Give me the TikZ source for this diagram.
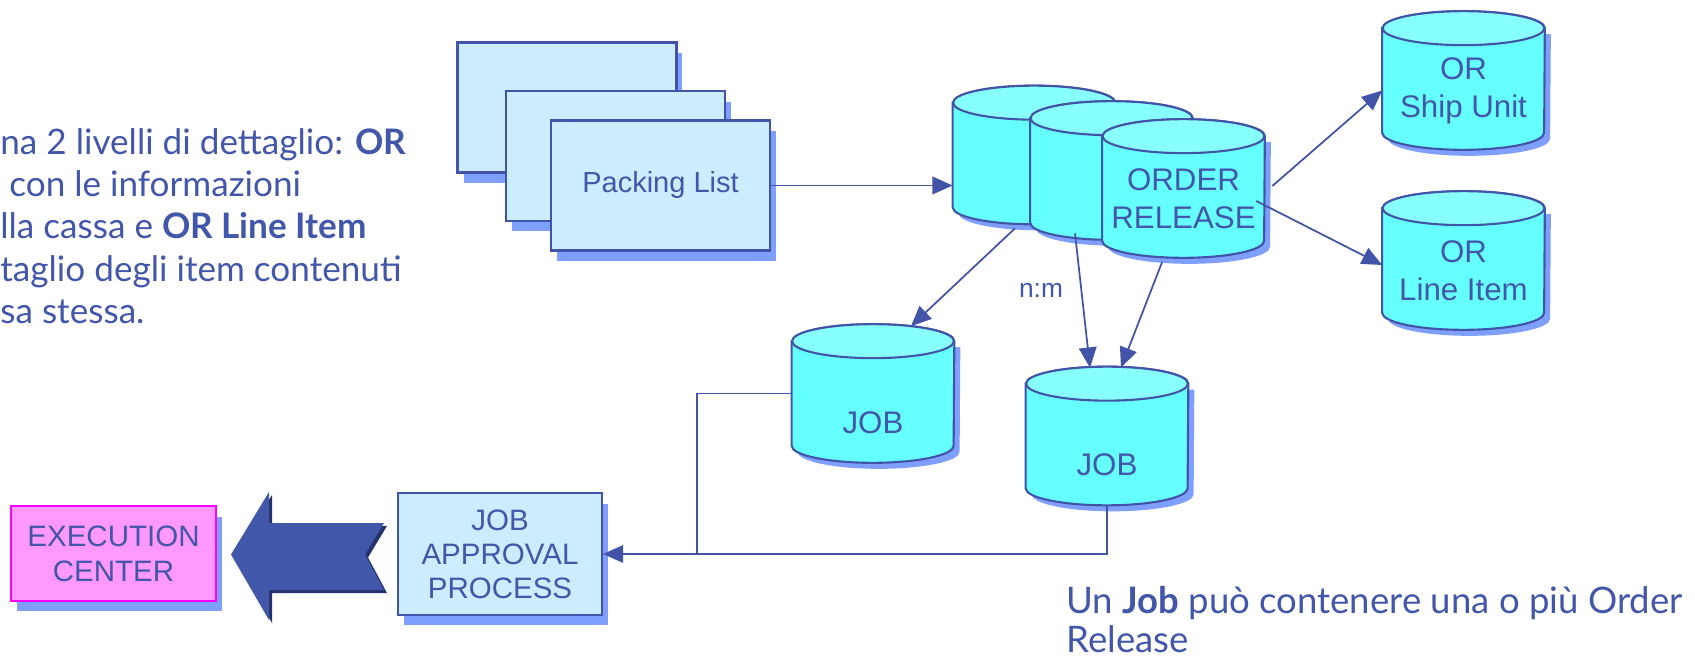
\documentclass[tikz,border=0pt]{standalone}
\usepackage{fontspec}
\setmainfont{Liberation Sans}
\newfontfamily\notefont{Lato}
\usepackage{tikz}
\usetikzlibrary{calc,arrows.meta,shadows}
\definecolor{lineblue}{RGB}{66,84,168}
\definecolor{textblue}{RGB}{66,86,170}
\definecolor{boxfill}{HTML}{CCECFF}
\definecolor{shadowblue}{HTML}{7F9FFF}
\definecolor{cylbody}{HTML}{66FFFF}
\definecolor{cyltop}{HTML}{88FFFF}
\definecolor{execfill}{HTML}{FF99FF}
\definecolor{execline}{HTML}{FF00FF}
\definecolor{bigarrow}{RGB}{64,87,170}
\definecolor{bigarrowdark}{RGB}{38,50,108}
\tikzset{>={Triangle[length=11.5pt,width=10pt]}}

% cylinder drawn round an empty node
\newcommand{\drawcyl}[1]{%
  \fill[shadowblue] ($(#1.north west)+(6,-23)$) -- ($(#1.south west)+(6,11)$)
    arc[start angle=180,end angle=360,x radius=1.62cm,y radius=0.34cm]
    -- ($(#1.north east)+(6,-23)$) -- cycle;
  \filldraw[fill=cylbody,draw=lineblue,line width=1.2pt]
    ($(#1.north west)+(0,-17)$) -- ($(#1.south west)+(0,17)$)
    arc[start angle=180,end angle=360,x radius=1.62cm,y radius=0.34cm]
    -- ($(#1.north east)+(0,-17)$)
    arc[start angle=0,end angle=180,x radius=1.62cm,y radius=0.34cm] -- cycle;
  \filldraw[fill=cyltop,draw=lineblue,line width=1.2pt]
    ($(#1.north)+(0,-17)$) ellipse[x radius=1.62cm,y radius=0.34cm];
}

\begin{document}
\begin{tikzpicture}[x=0.02cm,y=0.02cm,
  cylspot/.style={inner sep=0pt,minimum width=3.24cm,minimum height=2.76cm},
  cyltext/.style={text=textblue,align=center,font=\fontsize{17.8}{21.5}\selectfont},
  boxshadow/.style={drop shadow={shadow xshift=0.12cm,shadow yshift=-0.21cm,fill=shadowblue,opacity=1}},
  listbox/.style={draw=lineblue,line width=1.2pt,fill=boxfill,boxshadow,
    minimum width=4.38cm,minimum height=2.6cm,text=textblue,font=\fontsize{16.5}{19}\selectfont},
  procbox/.style={draw=lineblue,line width=1.2pt,fill=boxfill,boxshadow,align=center,
    minimum width=4.08cm,minimum height=2.44cm,text=textblue,font=\fontsize{16.8}{19.3}\selectfont},
  execbox/.style={draw=execline,line width=1.2pt,fill=execfill,boxshadow,align=center,
    minimum width=4.1cm,minimum height=1.9cm,text=textblue,font=\fontsize{16.8}{20}\selectfont},
  flow/.style={->,draw=lineblue,line width=1pt},
  note/.style={text=textblue,align=left,inner sep=0pt}]

  \useasboundingbox (0,0) rectangle (1695,660);

  \node[note,anchor=north west,font=\notefont\fontsize{20}{24.1}\selectfont] (leftnote) at (0,532)
    {na 2 livelli di dettaglio: \textbf{OR}\\
    \ con le informazioni\\
    lla cassa e \textbf{OR Line Item}\\
    taglio degli item contenuti\\
    sa stessa.};

  \node[listbox] (pl1) at (567,552.5) {};
  \node[listbox] (pl2) at (615.5,504) {};
  \node[listbox] (pl3) at (660.5,474.5) {Packing List};

  \node[cylspot] (cylA) at (1034,505) {};
  \drawcyl{cylA}
  \node[cylspot] (cylB) at (1111.5,489.5) {};
  \drawcyl{cylB}
  \node[cylspot] (orrel) at (1183.5,471.5) {};
  \drawcyl{orrel}
  \node[cyltext] at ($(orrel)+(0,-10.5)$) {ORDER\\RELEASE};

  \node[cylspot] (ship) at (1463.5,579.5) {};
  \drawcyl{ship}
  \node[cyltext] at ($(ship)+(0,-10)$) {OR\\Ship Unit};
  \node[cylspot] (lineitem) at (1463.5,399.5) {};
  \drawcyl{lineitem}
  \node[cyltext] at ($(lineitem)+(0,-10.5)$) {OR\\Line Item};

  \node[cylspot] (job1) at (873,266.5) {};
  \drawcyl{job1}
  \node[cyltext] at ($(job1)+(0,-29.5)$) {JOB};
  \node[cylspot] (job2) at (1107,224) {};
  \drawcyl{job2}
  \node[cyltext] at ($(job2)+(0,-29)$) {JOB};

  \node[procbox] (jap) at (500,106) {JOB\\APPROVAL\\PROCESS};
  \node[execbox] (exec) at (113.5,106.5) {EXECUTION\\CENTER};

  \fill[bigarrowdark] (234,102.5) -- (272,165) -- (272,134) -- (387,134) -- (368,102.5)
    -- (387,67) -- (272,67) -- (272,37) -- cycle;
  \fill[bigarrow] (231,105.5) -- (269,168) -- (269,137) -- (384,137) -- (365,105.5)
    -- (384,70) -- (269,70) -- (269,40) -- cycle;

  \node[text=textblue,font=\fontsize{15}{18}\selectfont] (nm) at (1041,370) {n:m};

  \coordinate (joint) at (697,105);

  \draw[flow] (pl3.east) -- (pl3.east -| cylA.west);
  \draw[flow] ($(cylA.south)+(-19,-4)$) -- ($(job1.north)+(38,-2)$);
  \draw[flow] ($(cylB.south)+(-36.5,6.5)$) -- ($(job2.north)+(-17,-1)$);
  \draw[flow] ($(orrel.south)+(-21.5,-4.5)$) -- ($(job2.north)+(14,-1)$);
  \draw[flow] ($(orrel.east)+(7.5,2.5)$) -- ($(ship.west)+(0,-10)$);
  \draw[flow] ($(orrel.east)+(-8.5,-12.5)$) -- ($(lineitem.west)+(0,-4.5)$);
  \draw[flow] (job2.south) |- (jap.east);
  \draw[draw=lineblue,line width=1pt] (job1.west) -| (joint);

  \node[note,anchor=north west,font=\notefont\fontsize{20.8}{22}\selectfont] (jobnote) at (1066,74)
    {Un \textbf{Job} può contenere una o più Order\\Release};

\end{tikzpicture}
\end{document}
